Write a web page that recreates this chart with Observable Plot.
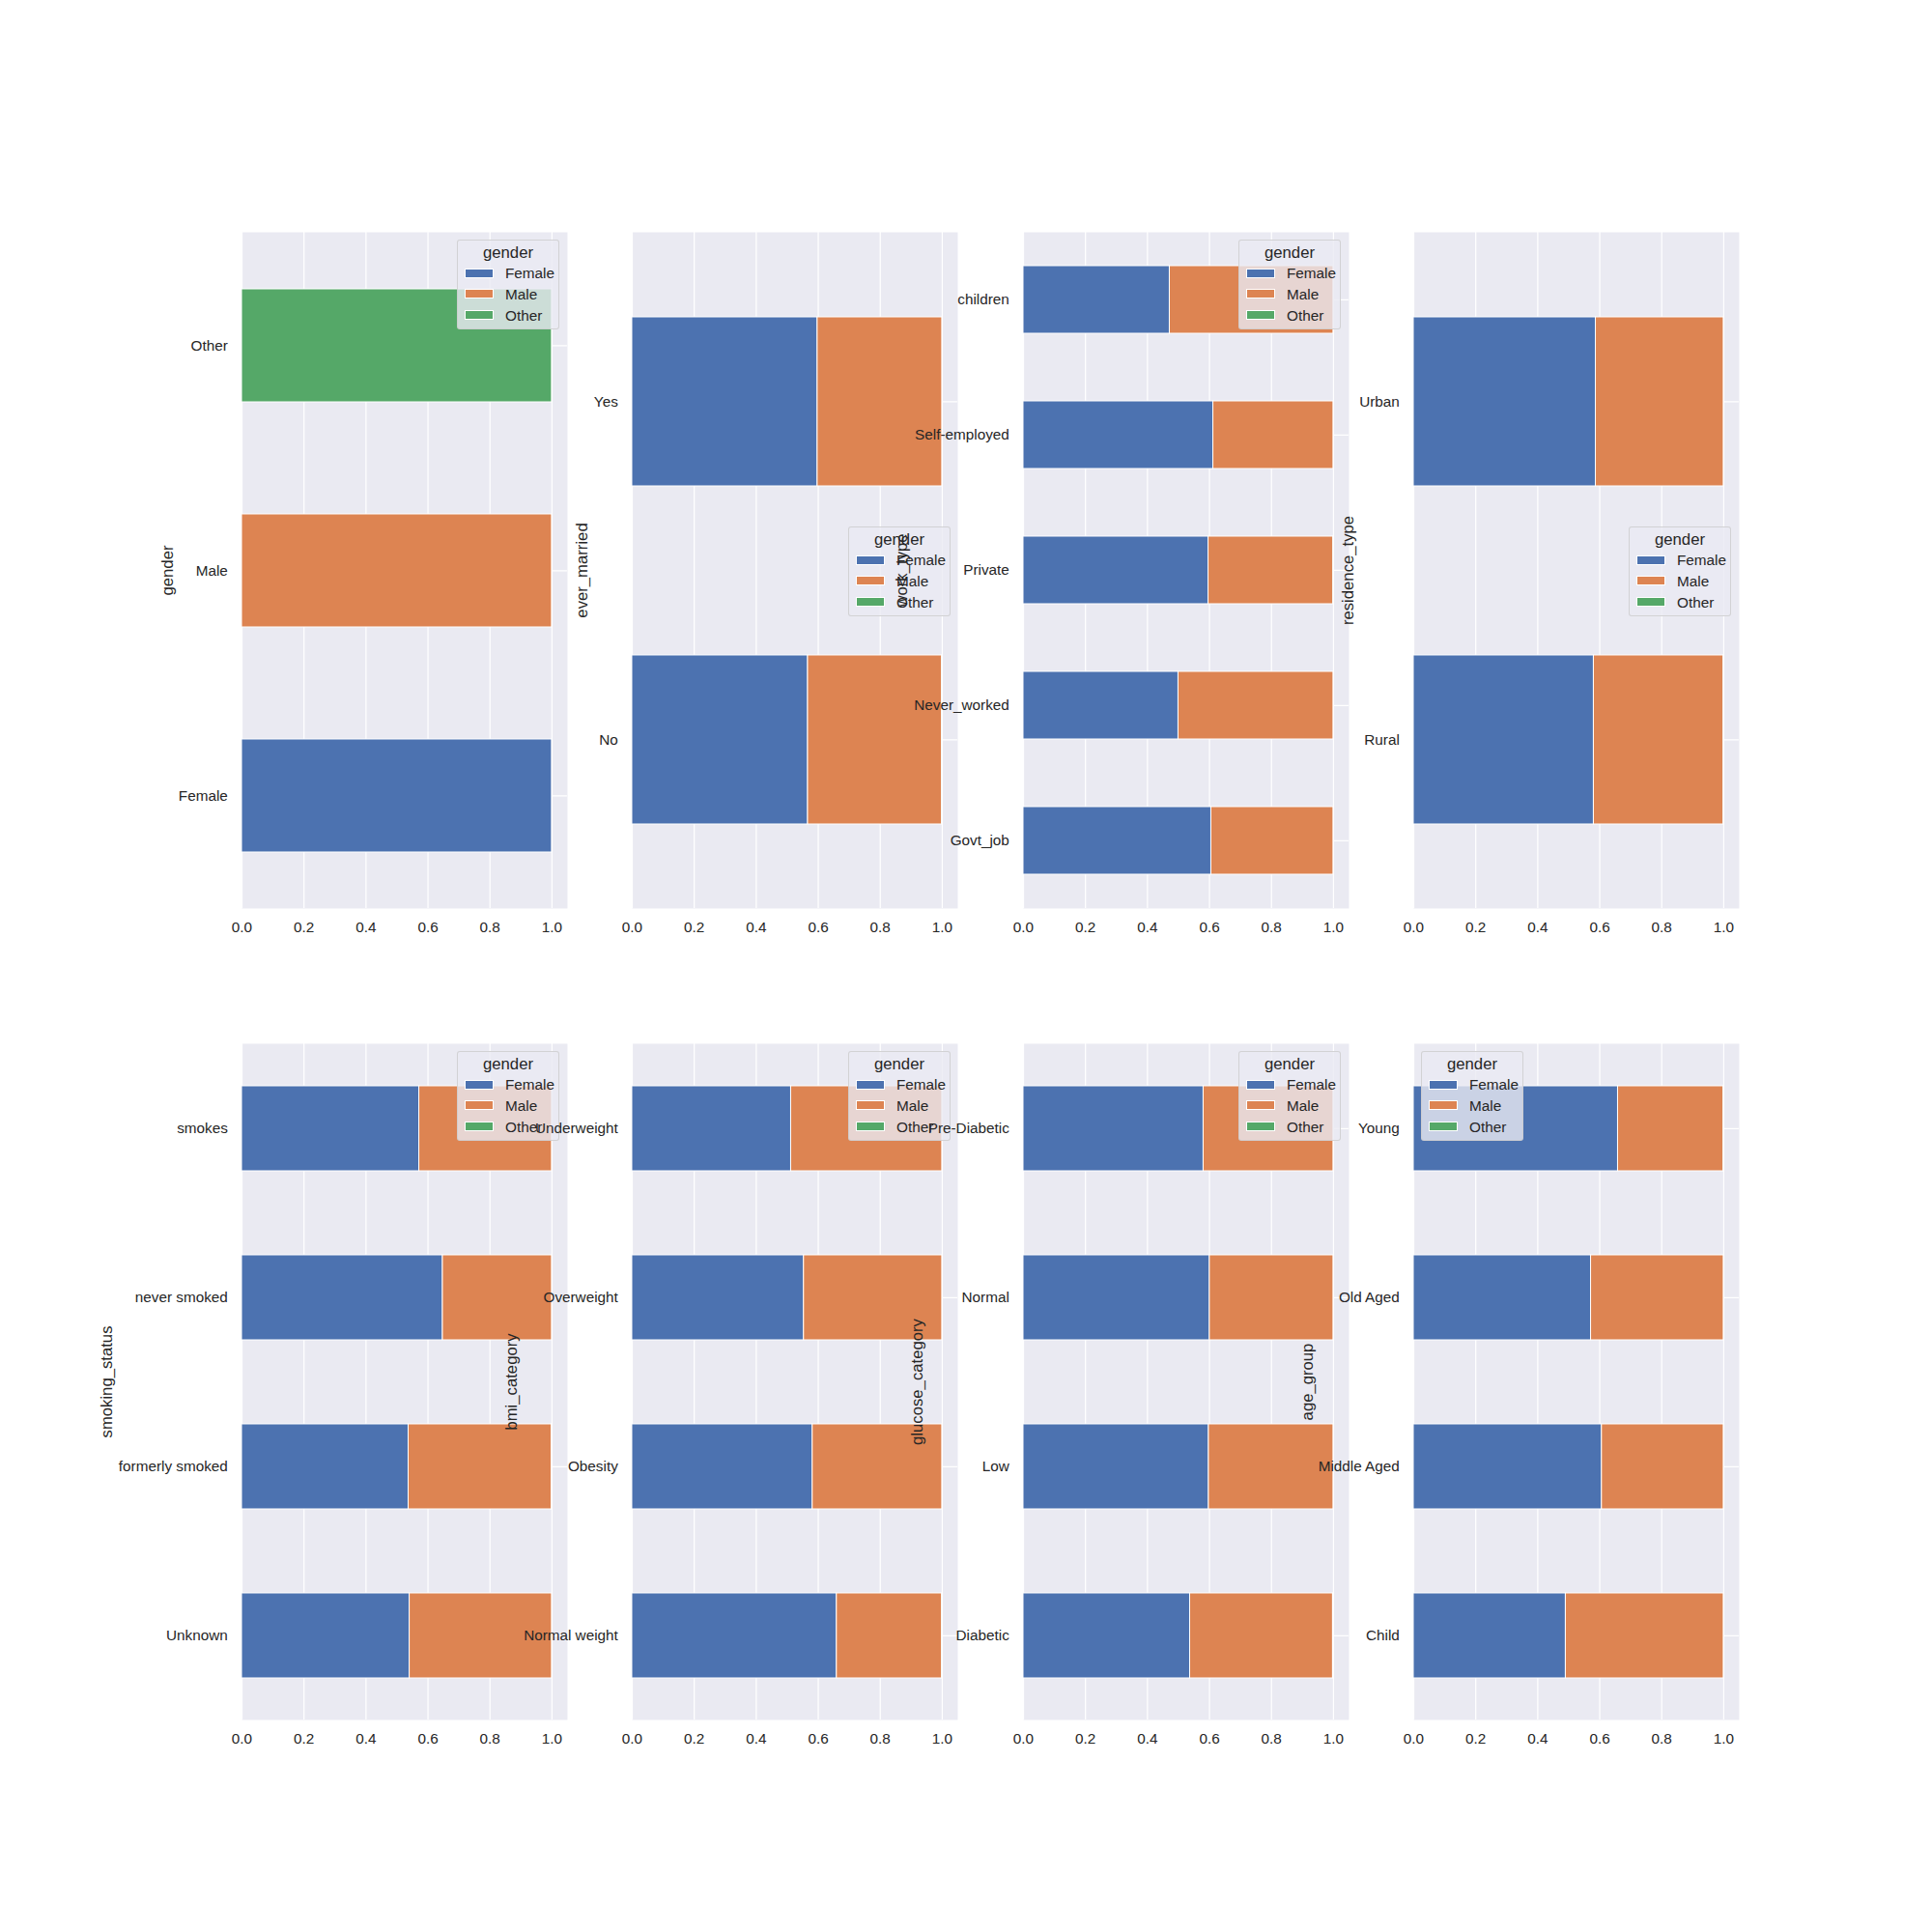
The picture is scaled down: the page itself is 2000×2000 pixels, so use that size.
<!DOCTYPE html>
<html>
<head>
<meta charset="utf-8">
<script src="https://cdn.jsdelivr.net/npm/d3@7"></script>
<script src="https://cdn.jsdelivr.net/npm/@observablehq/plot@0.6"></script>
<style>
  body { margin: 0; background: #ffffff; font-family: "Liberation Sans", Arial, sans-serif; }
  #root { position: relative; width: 2000px; height: 2000px; overflow: hidden; }
  .panel { position: absolute; }
  .legend { position: absolute; box-sizing: border-box; width: 106px; height: 93px;
            background: rgba(234,234,242,0.8); border: 1px solid rgba(204,204,204,0.8);
            border-radius: 3px; color: #262626; }
  .legend .ttl { position: absolute; left: 0; width: 100%; text-align: center; font-size: 16.7px; line-height: 17px; top: 3.5px; }
  .legend .sw { position: absolute; left: 7px; width: 30px; height: 10px; box-sizing: border-box; border: 1px solid #ffffff; }
  .legend .lb { position: absolute; left: 49px; font-size: 15.3px; line-height: 17px; white-space: nowrap; }
</style>
</head>
<body>
<div id="root"></div>
<script>
// ---------------- data ----------------
const genders = ["Female", "Male", "Other"];
const genderColors = ["#4C72B0", "#DD8452", "#55A868"];
const xTicks = [0, 0.2, 0.4, 0.6, 0.8, 1.0];

const genderCats = ["Female", "Male", "Other"];
const genderFemale = [1, 0, 0];
const genderMale = [0, 1, 0];
const genderOther = [0, 0, 1];

const marriedCats = ["No", "Yes"];
const marriedFemale = [0.567, 0.598];
const marriedMale = [0.4324, 0.402];
const marriedOther = [0.0006, 0];

const workCats = ["Govt_job", "Never_worked", "Private", "Self-employed", "children"];
const workFemale = [0.606, 0.5, 0.597, 0.6125, 0.472];
const workMale = [0.394, 0.5, 0.4027, 0.3875, 0.528];
const workOther = [0, 0, 0.0003, 0, 0];

const residenceCats = ["Rural", "Urban"];
const residenceFemale = [0.581, 0.5875];
const residenceMale = [0.4186, 0.4125];
const residenceOther = [0.0004, 0];

const smokingCats = ["Unknown", "formerly smoked", "never smoked", "smokes"];
const smokingFemale = [0.541, 0.5375, 0.648, 0.572];
const smokingMale = [0.459, 0.4614, 0.352, 0.428];
const smokingOther = [0, 0.0011, 0, 0];

const bmiCats = ["Normal weight", "Obesity", "Overweight", "Underweight"];
const bmiFemale = [0.66, 0.582, 0.554, 0.5125];
const bmiMale = [0.3395, 0.418, 0.446, 0.4875];
const bmiOther = [0.0005, 0, 0, 0];

const glucoseCats = ["Diabetic", "Low", "Normal", "Pre-Diabetic"];
const glucoseFemale = [0.5375, 0.598, 0.601, 0.581];
const glucoseMale = [0.461, 0.402, 0.399, 0.419];
const glucoseOther = [0.0015, 0, 0, 0];

const ageCats = ["Child", "Middle Aged", "Old Aged", "Young"];
const ageFemale = [0.4906, 0.607, 0.572, 0.659];
const ageMale = [0.5094, 0.393, 0.428, 0.3405];
const ageOther = [0, 0, 0, 0.0005];

const panels = [
  {label: "gender", cats: genderCats, series: [genderFemale, genderMale, genderOther]},
  {label: "ever_married", cats: marriedCats, series: [marriedFemale, marriedMale, marriedOther]},
  {label: "work_type", cats: workCats, series: [workFemale, workMale, workOther]},
  {label: "residence_type", cats: residenceCats, series: [residenceFemale, residenceMale, residenceOther]},
  {label: "smoking_status", cats: smokingCats, series: [smokingFemale, smokingMale, smokingOther]},
  {label: "bmi_category", cats: bmiCats, series: [bmiFemale, bmiMale, bmiOther]},
  {label: "glucose_category", cats: glucoseCats, series: [glucoseFemale, glucoseMale, glucoseOther]},
  {label: "age_group", cats: ageCats, series: [ageFemale, ageMale, ageOther]}
];

// ---------------- layout ----------------
const frameW = 336.96, frameH = 700;
const colLeft = [250, 654.35, 1058.7, 1463.04];
const rowTop = [240, 1080];
const mL = 160, mR = 20, mT = 10, mB = 50;
const labelOffsets = [-77, -52, -125.7, -67.5, -139.5, -124.8, -109.9, -109.7];
const legendPos = [[473, 248], [878, 545], [1282, 248], [1686, 545],
                   [473, 1088], [878, 1088], [1282, 1088], [1471, 1088]];
const legendRowY = [34.7, 56, 78];

const root = document.getElementById("root");

panels.forEach((p, i) => {
  const data = [];
  p.cats.forEach((c, j) => {
    genders.forEach((g, k) => data.push({cat: c, gender: g, value: p.series[k][j]}));
  });
  const left = colLeft[i % 4], top = rowTop[Math.floor(i / 4)];
  const chart = Plot.plot({
    width: mL + frameW + mR,
    height: mT + frameH + mB,
    marginLeft: mL, marginRight: mR, marginTop: mT, marginBottom: mB,
    style: {background: "transparent", fontFamily: "'Liberation Sans', Arial, sans-serif", fontSize: "15.3px", color: "#262626", overflow: "visible"},
    x: {domain: [0, 1.05]},
    y: {domain: p.cats.slice().reverse(), paddingInner: 0.5, paddingOuter: 0.25},
    color: {domain: genders, range: genderColors},
    marks: [
      Plot.frame({fill: "#EAEAF2", stroke: null}),
      Plot.gridX({ticks: xTicks, stroke: "#ffffff", strokeOpacity: 1, strokeWidth: 1.25}),
      Plot.gridY({stroke: "#ffffff", strokeOpacity: 1, strokeWidth: 1.25}),
      Plot.barX(data, Plot.stackX({y: "cat", x: "value", fill: "gender", stroke: "#ffffff", strokeWidth: 1})),
      Plot.axisX({ticks: xTicks, tickFormat: ".1f", tickSize: 0, tickPadding: 14, label: null, fill: "#262626"}),
      Plot.axisY({tickSize: 0, tickPadding: 14.7, label: null, fill: "#262626"}),
      Plot.text([p.label], {text: d => d, frameAnchor: "left", dx: labelOffsets[i], rotate: -90,
        textAnchor: "middle", lineAnchor: "middle", fontSize: 16.7, fill: "#262626"})
    ]
  });
  chart.classList.add("panel");
  chart.style.left = (left - mL) + "px";
  chart.style.top = (top - mT) + "px";
  root.appendChild(chart);

  const lg = document.createElement("div");
  lg.className = "legend";
  lg.style.left = legendPos[i][0] + "px";
  lg.style.top = legendPos[i][1] + "px";
  const ttl = document.createElement("div");
  ttl.className = "ttl";
  ttl.textContent = "gender";
  lg.appendChild(ttl);
  genders.forEach((g, k) => {
    const sw = document.createElement("div");
    sw.className = "sw";
    sw.style.background = genderColors[k];
    sw.style.top = (legendRowY[k] - 6) + "px";
    lg.appendChild(sw);
    const lb = document.createElement("div");
    lb.className = "lb";
    lb.textContent = g;
    lb.style.top = (legendRowY[k] - 9.5) + "px";
    lg.appendChild(lb);
  });
  root.appendChild(lg);
});
</script>
</body>
</html>
